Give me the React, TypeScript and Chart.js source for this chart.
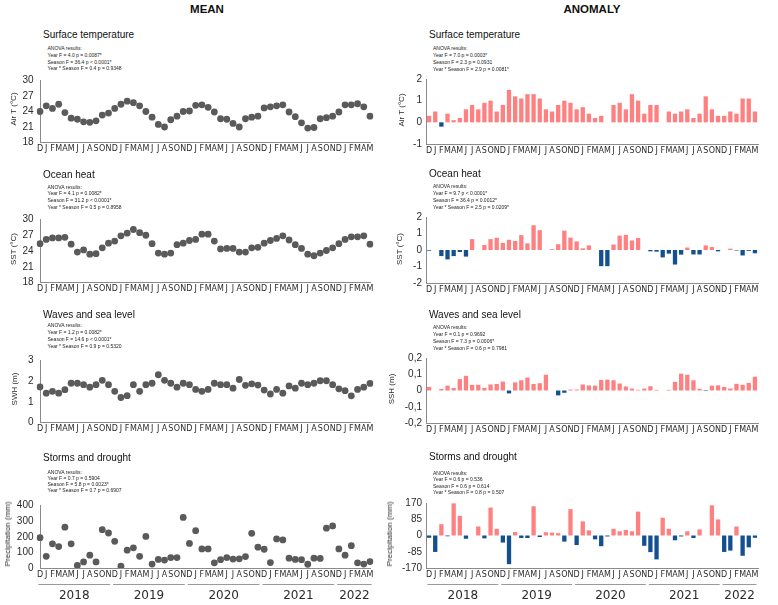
import React, { useEffect, useRef } from 'react';
import { Chart, registerables } from 'chart.js';

Chart.register(...registerables);

// Months of each season-year (Dec–Nov) and the year groups along the bottom axis
const SEASON_MONTHS = ['D', 'J', 'F', 'M', 'A', 'M', 'J', 'J', 'A', 'S', 'O', 'N'];
const YEAR_GROUPS = [
  { label: '2018', months: 12 },
  { label: '2019', months: 12 },
  { label: '2020', months: 12 },
  { label: '2021', months: 12 },
  { label: '2022', months: 6 },
];
const MONTH_LABELS = YEAR_GROUPS.flatMap((g) => SEASON_MONTHS.slice(0, g.months));

// Monthly means
const AIR_T_MEAN = [
  24.0, 25.1, 24.6, 25.4, 23.8, 22.7, 22.5, 22.0, 21.9, 22.2, 23.3, 23.7,
  24.6, 25.4, 26.0, 25.7, 25.1, 24.0, 22.9, 21.5, 21.0, 22.4, 23.1, 24.0,
  24.1, 25.2, 25.3, 24.8, 23.9, 22.6, 22.5, 21.7, 21.0, 22.6, 22.9, 23.1,
  24.7, 24.9, 25.1, 25.3, 23.9, 23.0, 21.8, 20.8, 20.9, 22.6, 22.8, 23.1,
  23.9, 25.3, 25.3, 25.5, 24.9, 23.1,
];
const SST_MEAN = [
  25.4, 26.2, 26.5, 26.5, 26.6, 25.3, 23.8, 24.2, 23.4, 23.5, 24.6, 25.5,
  25.9, 26.9, 27.4, 28.1, 27.5, 27.0, 25.4, 23.6, 23.4, 23.6, 25.2, 25.5,
  26.0, 26.2, 27.2, 27.2, 25.9, 24.4, 24.5, 24.5, 23.8, 23.8, 24.6, 24.7,
  25.5, 26.0, 26.4, 26.9, 26.1, 25.2, 24.5, 23.4, 23.1, 23.6, 24.1, 24.6,
  25.4, 26.2, 26.7, 26.7, 26.9, 25.3,
];
const SWH_MEAN = [
  1.72, 1.42, 1.51, 1.42, 1.59, 1.9, 1.9, 1.83, 1.71, 1.83, 2.04, 1.83,
  1.51, 1.21, 1.3, 1.83, 1.51, 1.83, 1.9, 2.31, 2.04, 1.9, 1.71, 1.9,
  1.83, 1.6, 1.51, 1.6, 1.9, 1.83, 1.83, 1.66, 2.08, 1.8, 1.87, 1.81,
  1.57, 1.38, 1.6, 1.42, 1.77, 1.66, 1.9, 1.83, 1.9, 2.02, 2.02, 1.83,
  1.63, 1.54, 1.29, 1.6, 1.71, 1.89,
];
const PRECIP_MEAN = [
  194, 75, 155, 137, 261, 155, 16, 39, 82, 39, 245, 224,
  171, 12, 114, 129, 75, 202, 25, 55, 51, 67, 67, 324,
  157, 239, 122, 122, 33, 53, 67, 57, 59, 73, 222, 133,
  120, 35, 186, 180, 63, 55, 53, 24, 63, 61, 255, 269,
  122, 82, 143, 33, 25, 41,
];

// Monthly anomalies (null = no data)
const AIR_T_ANOMALY = [
  0.3, 0.5, -0.2, 0.4, 0.1, 0.2, 0.6, 0.8, 0.6, 0.9, 1.0, 0.5,
  0.8, 1.5, 1.2, 1.1, 1.3, 1.3, 1.1, 0.6, 0.5, 0.8, 1.0, 0.9,
  0.6, 0.7, 0.4, 0.2, 0.3, null, 0.8, 0.9, 0.6, 1.3, 1.0, 0.4,
  0.8, 0.8, null, 0.5, 0.4, 0.5, 0.6, 0.2, 0.4, 1.2, 0.6, 0.3,
  0.3, 0.5, 0.4, 1.1, 1.1, 0.5,
];
const SST_ANOMALY = [
  -0.04, null, -0.37, -0.57, -0.37, -0.12, -0.4, 0.66, null, 0.3, 0.66, 0.74,
  0.43, 0.62, 0.55, 0.9, 0.4, 1.5, 1.2, null, 0.05, 0.35, 1.17, 0.75,
  0.52, 0.1, 0.28, null, -0.98, -0.98, 0.33, 0.87, 0.92, 0.58, 0.73, null,
  -0.08, -0.1, -0.45, -0.22, -0.88, -0.28, 0.15, -0.27, -0.27, 0.28, 0.18, -0.08,
  null, 0.08, -0.03, -0.33, -0.05, -0.2,
];
const SSH_ANOMALY = [
  0.022, null, 0.01, 0.03, 0.015, 0.07, 0.09, 0.035, 0.035, 0.016, 0.037, 0.04,
  0.055, -0.018, 0.05, 0.063, 0.08, 0.04, 0.045, 0.097, null, -0.03, -0.014, 0.006,
  0.006, 0.037, 0.031, 0.03, 0.065, 0.067, 0.063, 0.043, 0.025, 0.012, 0.004, 0.012,
  0.026, 0.004, null, 0.004, 0.053, 0.104, 0.097, 0.063, 0.01, -0.003, 0.03, 0.032,
  0.022, 0.012, 0.041, 0.035, 0.047, 0.085,
];
const PRECIP_ANOMALY = [
  -12, -86, 59, -4, 168, 103, -17, null, 47, -15, 146, 35,
  -37, -150, 18, -13, -13, 153, -8, 17, 15, 12, -32, 138,
  -50, 74, 27, -20, -56, -5, 35, 22, 29, 22, 125, -54,
  -87, -125, 93, 35, -25, -5, 22, -13, 32, null, 158, 84,
  -86, -79, 47, -106, -62, -12,
];

// Axis ranges: [min, max, step]
const AIR_T_MEAN_AXIS = [18, 30, 3];
const AIR_T_ANOMALY_AXIS = [-1, 2, 1];
const SST_MEAN_AXIS = [18, 30, 3];
const SST_ANOMALY_AXIS = [-2, 2, 1];
const SWH_MEAN_AXIS = [0, 3, 1];
const SSH_ANOMALY_AXIS = [-0.2, 0.2, 0.1];
const PRECIP_MEAN_AXIS = [0, 400, 100];
const PRECIP_ANOMALY_AXIS = [-170, 170, 85];

// ANOVA summaries
const ANOVA_AIR_T_MEAN = ['Year F = 4.0 p = 0.0087*', 'Season F = 36.4 p < 0.0001*', 'Year * Season F = 0.4 p = 0.9348'];
const ANOVA_AIR_T_ANOMALY = ['Year F = 7.0 p = 0.0003*', 'Season F = 2.3 p = 0.0931', 'Year * Season F = 2.9 p = 0.0081*'];
const ANOVA_SST_MEAN = ['Year F = 4.1 p = 0.0082*', 'Season F = 31.2 p < 0.0001*', 'Year * Season F = 0.5 p = 0.8958'];
const ANOVA_SST_ANOMALY = ['Year F = 9.7 p < 0.0001*', 'Season F = 36.4 p = 0.0012*', 'Year * Season F = 2.5 p = 0.0209*'];
const ANOVA_SWH_MEAN = ['Year F = 1.2 p = 0.0082*', 'Season F = 14.6 p < 0.0001*', 'Year * Season F = 0.9 p = 0.5320'];
const ANOVA_SSH_ANOMALY = ['Year F = 0.1 p = 0.9692', 'Season F = 7.3 p = 0.0006*', 'Year * Season F = 0.6 p = 0.7981'];
const ANOVA_PRECIP_MEAN = ['Year F = 0.7 p = 0.5904', 'Season F = 5.8 p = 0.0023*', 'Year * Season F = 0.7 p = 0.6907'];
const ANOVA_PRECIP_ANOMALY = ['Year F = 0.6 p = 0.536', 'Season F = 0.6 p = 0.614', 'Year * Season F = 0.8 p = 0.507'];

const FONT = '"Liberation Sans", Arial, Helvetica, sans-serif';
const MONTH_FONT = '"DejaVu Sans", Verdana, sans-serif';
const TEXT = '#2b2b2b';
const AXIS_COLOR = '#8a8a8a';
const POINT_COLOR = '#5a5a5a';
const POSITIVE = '#ff8080';
const NEGATIVE = '#14508f';

const commaFmt = (v: number) => (Math.abs(v) < 1e-9 ? '0' : v.toFixed(1).replace('.', ','));
const plainFmt = (v: number) => String(Math.round(v * 1000) / 1000);

// Year groups drawn under the month labels of the bottom row
const yearBands = {
  id: 'yearBands',
  afterDraw(chart: any) {
    const x = chart.scales.x;
    const ctx = chart.ctx;
    const step = x.getPixelForValue(1) - x.getPixelForValue(0);
    const lineY = Math.round(x.top + 16) + 0.5;
    let start = 0;
    ctx.save();
    YEAR_GROUPS.forEach((g) => {
      const x0 = x.getPixelForValue(start) - step / 2 + 1.5;
      const x1 = x.getPixelForValue(start + g.months - 1) + step / 2 - 1.5;
      ctx.strokeStyle = '#9a9a9a';
      ctx.lineWidth = 1;
      ctx.beginPath();
      ctx.moveTo(x0, lineY);
      ctx.lineTo(x1, lineY);
      ctx.stroke();
      ctx.fillStyle = TEXT;
      ctx.font = '12px "DejaVu Sans", Verdana, sans-serif';
      ctx.textAlign = 'center';
      ctx.textBaseline = 'middle';
      ctx.fillText(g.label, (x0 + x1) / 2, x.top + 27.5);
      start += g.months;
    });
    ctx.restore();
  },
};

type Col = { left: number; width: number; axisW: number; padRight: number; titleX: number; anovaX: number; tickPad: number };
const COLS: Col[] = [
  { left: 0, width: 390, axisW: 40, padRight: 20, titleX: 43, anovaX: 47.5, tickPad: 6.5 },
  { left: 390, width: 388, axisW: 36, padRight: 20, titleX: 429, anovaX: 433, tickPad: 4 },
];

type Panel = {
  col: number;
  kind: 'mean' | 'anomaly';
  title: string;
  anova: string[];
  yTitle: string;
  values: (number | null)[];
  axis: number[];
  fmt: (v: number) => string;
  plotTop: number;
  plotBottom: number;
  titleY: number;
  anovaY: number;
  anovaGap: number;
  yTitleX: number;
  years?: boolean;
};

const PANELS: Panel[] = [
  { col: 0, kind: 'mean', title: 'Surface temperature', anova: ANOVA_AIR_T_MEAN, yTitle: 'Air T (°C)', values: AIR_T_MEAN, axis: AIR_T_MEAN_AXIS, fmt: plainFmt, plotTop: 75, plotBottom: 143, titleY: 35, anovaY: 48.2, anovaGap: 6.7, yTitleX: 14 },
  { col: 1, kind: 'anomaly', title: 'Surface temperature', anova: ANOVA_AIR_T_ANOMALY, yTitle: 'Air T (°C)', values: AIR_T_ANOMALY, axis: AIR_T_ANOMALY_AXIS, fmt: plainFmt, plotTop: 76, plotBottom: 144, titleY: 34.5, anovaY: 48.3, anovaGap: 6.9, yTitleX: 402 },
  { col: 0, kind: 'mean', title: 'Ocean heat', anova: ANOVA_SST_MEAN, yTitle: 'SST (°C)', values: SST_MEAN, axis: SST_MEAN_AXIS, fmt: plainFmt, plotTop: 214, plotBottom: 283, titleY: 175, anovaY: 186.7, anovaGap: 6.7, yTitleX: 14 },
  { col: 1, kind: 'anomaly', title: 'Ocean heat', anova: ANOVA_SST_ANOMALY, yTitle: 'SST (°C)', values: SST_ANOMALY, axis: SST_ANOMALY_AXIS, fmt: plainFmt, plotTop: 214, plotBottom: 283, titleY: 174, anovaY: 186, anovaGap: 6.9, yTitleX: 400 },
  { col: 0, kind: 'mean', title: 'Waves and sea level', anova: ANOVA_SWH_MEAN, yTitle: 'SWH (m)', values: SWH_MEAN, axis: SWH_MEAN_AXIS, fmt: plainFmt, plotTop: 355, plotBottom: 423, titleY: 315, anovaY: 325.3, anovaGap: 7, yTitleX: 15 },
  { col: 1, kind: 'anomaly', title: 'Waves and sea level', anova: ANOVA_SSH_ANOMALY, yTitle: 'SSH (m)', values: SSH_ANOMALY, axis: SSH_ANOMALY_AXIS, fmt: commaFmt, plotTop: 355, plotBottom: 423, titleY: 315, anovaY: 326.7, anovaGap: 7, yTitleX: 392 },
  { col: 0, kind: 'mean', title: 'Storms and drought', anova: ANOVA_PRECIP_MEAN, yTitle: 'Precipitation (mm)', values: PRECIP_MEAN, axis: PRECIP_MEAN_AXIS, fmt: plainFmt, plotTop: 500, plotBottom: 568, titleY: 458, anovaY: 472.3, anovaGap: 6, yTitleX: 8, years: true },
  { col: 1, kind: 'anomaly', title: 'Storms and drought', anova: ANOVA_PRECIP_ANOMALY, yTitle: 'Precipitation (mm)', values: PRECIP_ANOMALY, axis: PRECIP_ANOMALY_AXIS, fmt: plainFmt, plotTop: 500, plotBottom: 568, titleY: 457, anovaY: 473.3, anovaGap: 6.1, yTitleX: 390, years: true },
];

function PanelChart({ p }: { p: Panel }) {
  const ref = useRef<HTMLCanvasElement>(null);
  const col = COLS[p.col];
  const padTop = 7;
  const canvasTop = p.plotTop - padTop;
  const height = p.years ? 605 - canvasTop : p.plotBottom - canvasTop + 12;
  const xHeight = height - (p.plotBottom - canvasTop);

  useEffect(() => {
    const isBar = p.kind === 'anomaly';
    const dataset: any = isBar
      ? {
          data: p.values,
          backgroundColor: (c: any) => (c.raw != null && c.raw < 0 ? NEGATIVE : POSITIVE),
          borderWidth: 0,
          barPercentage: 0.7,
          categoryPercentage: 1,
        }
      : {
          data: p.values,
          showLine: false,
          pointRadius: 3.4,
          pointHoverRadius: 3.4,
          pointBorderWidth: 0,
          pointBackgroundColor: POINT_COLOR,
          borderColor: 'transparent',
        };
    const chart = new Chart(ref.current as HTMLCanvasElement, {
      type: isBar ? 'bar' : 'line',
      data: { labels: MONTH_LABELS, datasets: [dataset] },
      options: {
        responsive: false,
        animation: false,
        events: [],
        layout: { padding: { top: padTop, right: col.padRight, left: 0, bottom: 0 } },
        plugins: { legend: { display: false }, tooltip: { enabled: false }, title: { display: false } },
        scales: {
          x: {
            type: 'category',
            offset: isBar,
            grid: { display: false, drawTicks: false },
            border: { display: true, color: AXIS_COLOR, width: 1 },
            ticks: {
              autoSkip: false,
              maxRotation: 0,
              minRotation: 0,
              padding: 2,
              color: TEXT,
              font: { family: MONTH_FONT, size: 8 },
            },
            afterFit: (s: any) => {
              s.height = xHeight;
            },
          },
          y: {
            min: p.axis[0],
            max: p.axis[1],
            grid: { display: false, drawTicks: false },
            border: { display: true, color: AXIS_COLOR, width: 1 },
            ticks: {
              stepSize: p.axis[2],
              padding: col.tickPad,
              color: TEXT,
              font: { family: FONT, size: 10 },
              callback: (v: any) => p.fmt(Number(v)),
            },
            afterFit: (s: any) => {
              s.width = col.axisW;
            },
          },
        },
      } as any,
      plugins: p.years ? [yearBands] : [],
    });
    return () => chart.destroy();
  }, []);

  return (
    <canvas
      ref={ref}
      width={col.width}
      height={height}
      style={{ position: 'absolute', left: col.left, top: canvasTop, width: col.width, height }}
    />
  );
}

function PanelText({ p }: { p: Panel }) {
  const col = COLS[p.col];
  const lines = ['ANOVA results:', ...p.anova];
  return (
    <>
      <div style={{ position: 'absolute', left: col.titleX, top: p.titleY, transform: 'translateY(-50%)', fontSize: 10, lineHeight: 1, whiteSpace: 'nowrap', color: '#111' }}>
        {p.title}
      </div>
      {lines.map((t, i) => (
        <div
          key={i}
          style={{ position: 'absolute', left: col.anovaX, top: p.anovaY + i * p.anovaGap, transform: 'translateY(-50%)', fontSize: 5, lineHeight: 1, whiteSpace: 'nowrap', color: '#222' }}
        >
          {t}
        </div>
      ))}
      <div
        style={{ position: 'absolute', left: p.yTitleX, top: (p.plotTop + p.plotBottom) / 2, transform: 'translate(-50%, -50%) rotate(-90deg)', fontSize: 8, lineHeight: 1, whiteSpace: 'nowrap', color: TEXT }}
      >
        {p.yTitle}
      </div>
    </>
  );
}

export default function App() {
  return (
    <div style={{ position: 'absolute', left: 0, top: 0, width: 778, height: 605, background: '#fff', overflow: 'hidden', fontFamily: FONT }}>
      <div style={{ position: 'absolute', left: 207, top: 10, transform: 'translate(-50%, -50%)', fontSize: 11.5, fontWeight: 700, lineHeight: 1, color: '#111' }}>MEAN</div>
      <div style={{ position: 'absolute', left: 592, top: 10, transform: 'translate(-50%, -50%)', fontSize: 11.5, fontWeight: 700, lineHeight: 1, color: '#111' }}>ANOMALY</div>
      {PANELS.map((p, i) => (
        <PanelChart key={'c' + i} p={p} />
      ))}
      {PANELS.map((p, i) => (
        <PanelText key={'t' + i} p={p} />
      ))}
    </div>
  );
}
